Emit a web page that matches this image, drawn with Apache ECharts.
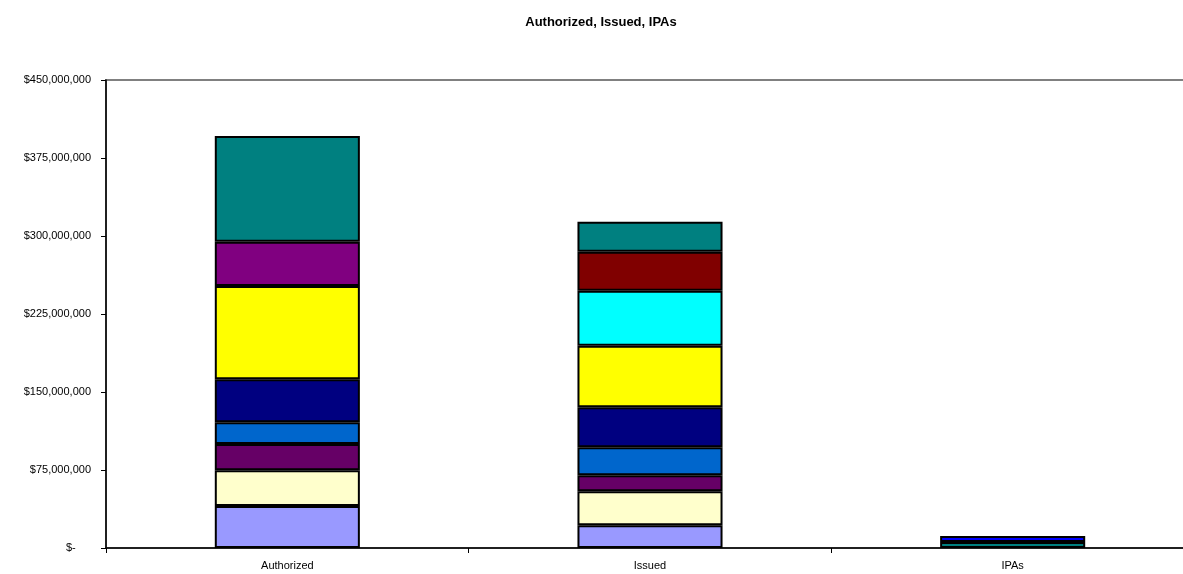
<!DOCTYPE html>
<html>
<head>
<meta charset="utf-8">
<script src="https://cdn.jsdelivr.net/npm/echarts@6/dist/echarts.min.js"></script>
<style>html,body{margin:0;padding:0;background:#fff;overflow:hidden;width:1183px;height:574px}#c{width:1195px;height:574px}</style>
</head>
<body>
<div id="c"></div>
<script>
const categories = ['Authorized', 'Issued', 'IPAs'];
const s1 = [40400000, 21800000, null];
const s2 = [34300000, 32700000, null];
const s3 = [25300000, 15400000, null];
const s4 = [20800000, 26900000, null];
const s5 = [41400000, 38500000, null];
const s6 = [89700000, 59200000, null];
const s7 = [null, 52900000, null];
const s8 = [42600000, null, null];
const s9 = [null, 37500000, null];
const s10 = [101700000, 28900000, 5800000];
const s11 = [null, null, 5700000];
const seriesData = [s1, s2, s3, s4, s5, s6, s7, s8, s9, s10, s11];
const colors = ['#9999FF', '#FFFFCC', '#660066', '#0066CC', '#000080', '#FFFF00', '#00FFFF', '#800080', '#800000', '#008080', '#0000FF'];
const yMax = 450000000, yStep = 75000000;

const chart = echarts.init(document.getElementById('c'));
chart.setOption({
  animation: false,
  backgroundColor: '#fff',
  title: {
    text: 'Authorized, Issued, IPAs',
    left: 596, top: 11, textAlign: 'center',
    textStyle: { fontFamily: 'Liberation Sans, Arial, sans-serif', fontSize: 13, fontWeight: 'bold', color: '#000' }
  },
  grid: { left: 106, top: 80, width: 1088, bottom: 26, show: true, borderColor: '#808080', borderWidth: 2 },
  xAxis: {
    type: 'category', data: categories,
    axisLine: { lineStyle: { color: '#000', width: 1.5 } },
    axisTick: { show: true, length: 5, lineStyle: { color: '#000' } },
    axisLabel: { color: '#000', fontFamily: 'Liberation Sans, Arial, sans-serif', fontSize: 11, margin: 12 }
  },
  yAxis: {
    type: 'value', min: 0, max: yMax, interval: yStep,
    splitLine: { show: false },
    axisLine: { show: true, lineStyle: { color: '#000', width: 1.5 } },
    axisTick: { show: true, length: 5, lineStyle: { color: '#000' } },
    axisLabel: {
      color: '#000', fontFamily: 'Liberation Sans, Arial, sans-serif', fontSize: 11, margin: 15,
      formatter: v => v === 0 ? '$-     ' : '$' + v.toLocaleString('en-US')
    }
  },
  series: seriesData.map((d, i) => ({
    type: 'bar', stack: 'total', data: d, barWidth: '40%',
    itemStyle: { color: colors[i], borderColor: '#000', borderWidth: 2 }
  }))
});
</script>
</body>
</html>
